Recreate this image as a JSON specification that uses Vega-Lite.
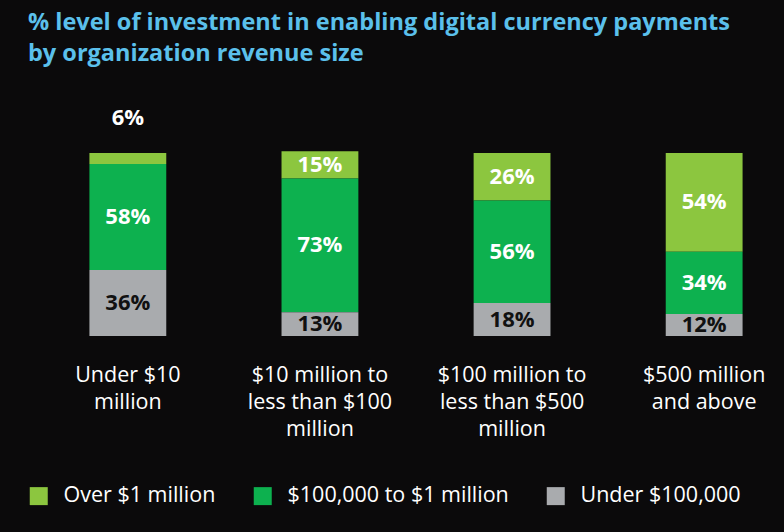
{
  "$schema": "https://vega.github.io/schema/vega-lite/v6.json",
  "width": 730,
  "height": 183,
  "autosize": "none",
  "padding": {"left": 51, "top": 153, "right": 3, "bottom": 196},
  "background": "#0b0a0b",
  "config": {"view": {"stroke": null}, "font": "Open Sans"},
  "title": {
    "text": ["% level of investment in enabling digital currency payments", "by organization revenue size"],
    "color": "#5bc0eb",
    "fontSize": 23.5,
    "fontWeight": "bold",
    "lineHeight": 31,
    "anchor": "start",
    "frame": "group",
    "dx": -23,
    "offset": 42
  },
  "data": {
    "values": [
      {"category": "Under $10|million", "segment": "Over $1 million", "value": 0.06},
      {"category": "Under $10|million", "segment": "$100,000 to $1 million", "value": 0.58},
      {"category": "Under $10|million", "segment": "Under $100,000", "value": 0.36},
      {"category": "$10 million to|less than $100|million", "segment": "Over $1 million", "value": 0.15},
      {"category": "$10 million to|less than $100|million", "segment": "$100,000 to $1 million", "value": 0.73},
      {"category": "$10 million to|less than $100|million", "segment": "Under $100,000", "value": 0.13},
      {"category": "$100 million to|less than $500|million", "segment": "Over $1 million", "value": 0.26},
      {"category": "$100 million to|less than $500|million", "segment": "$100,000 to $1 million", "value": 0.56},
      {"category": "$100 million to|less than $500|million", "segment": "Under $100,000", "value": 0.18},
      {"category": "$500 million|and above", "segment": "Over $1 million", "value": 0.54},
      {"category": "$500 million|and above", "segment": "$100,000 to $1 million", "value": 0.34},
      {"category": "$500 million|and above", "segment": "Under $100,000", "value": 0.12}
    ]
  },
  "transform": [
    {"calculate": "indexof(['Under $100,000', '$100,000 to $1 million', 'Over $1 million'], datum.segment)", "as": "rank"},
    {"stack": "value", "groupby": ["category"], "sort": [{"field": "rank"}], "as": ["y0", "y1"]},
    {"calculate": "datum.value < 0.1 ? datum.y1 + 0.19 : (datum.y0 + datum.y1) / 2", "as": "ymid"}
  ],
  "encoding": {
    "x": {
      "field": "category",
      "type": "nominal",
      "sort": null,
      "scale": {"paddingInner": 0.6, "paddingOuter": 0.2},
      "axis": {
        "title": null,
        "domain": false,
        "ticks": false,
        "labelAngle": 0,
        "labelPadding": 28,
        "labelFontSize": 21.5,
        "labelLineHeight": 27,
        "labelColor": "white",
        "labelLimit": 0,
        "labelExpr": "split(datum.label, '|')"
      }
    }
  },
  "layer": [
    {
      "mark": {"type": "bar"},
      "encoding": {
        "y": {"field": "y0", "type": "quantitative", "scale": {"domain": [0, 1]}, "axis": null},
        "y2": {"field": "y1"},
        "color": {
          "field": "segment",
          "type": "nominal",
          "scale": {
            "domain": ["Over $1 million", "$100,000 to $1 million", "Under $100,000"],
            "range": ["#8cc63f", "#0db14f", "#a9abae"]
          },
          "legend": {
            "orient": "none",
            "legendX": -23,
            "legendY": 332,
            "direction": "horizontal",
            "title": null,
            "symbolType": "square",
            "symbolSize": 324,
            "symbolStrokeWidth": 0,
            "labelFontSize": 21.5,
            "labelColor": "white",
            "labelOffset": 14,
            "labelLimit": 0,
            "columnPadding": 36
          }
        }
      }
    },
    {
      "mark": {"type": "text", "fontSize": 22, "fontWeight": "bold", "baseline": "middle"},
      "encoding": {
        "y": {"field": "ymid", "type": "quantitative"},
        "text": {"field": "value", "type": "quantitative", "format": ".0%"},
        "color": {
          "condition": {"test": "datum.segment === 'Under $100,000'", "value": "#111111"},
          "value": "white"
        }
      }
    }
  ]
}
